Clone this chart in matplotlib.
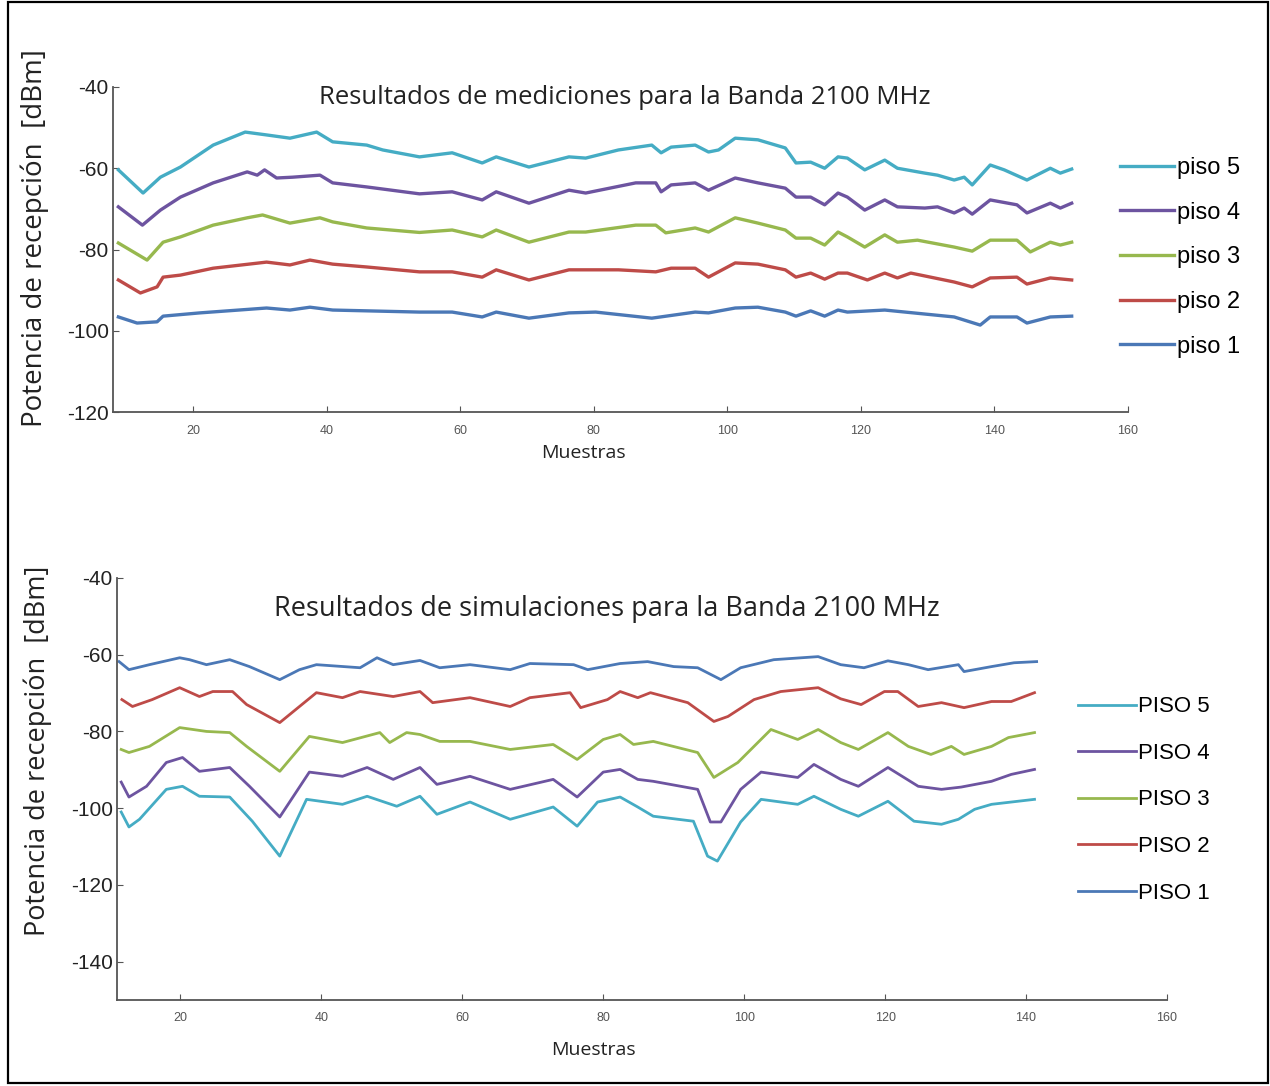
import matplotlib
matplotlib.use("Agg")
import matplotlib.pyplot as plt
from matplotlib.patches import Rectangle

plt.rcParams['axes.unicode_minus'] = False

# ---- medicion (upper chart) ----
m5_x = [8.8, 12.5, 15.1, 18.1, 23, 27.8, 31, 34.5, 38.5, 40.9, 46, 48.4, 53.9, 58.8, 63.3, 65.4, 70.3, 76.3, 78.8, 83.7,
        88.7, 90.1, 91.6, 95.2, 97.2, 98.7, 101.2, 104.6, 108.7, 110.3, 112.5, 114.6, 116.6, 118, 120.6, 123.6, 125.5,
        129.6, 131.5, 134, 135.5, 136.7, 139.4, 141.5, 144.9, 148.4, 149.9, 151.6]
m5_y = [-60.4, -66.1, -62.2, -59.7, -54.3, -51.1, -51.8, -52.6, -51.1, -53.5, -54.3, -55.5, -57.2, -56.2, -58.7, -57.2,
        -59.7, -57.2, -57.5, -55.5, -54.3, -56.2, -54.8, -54.3, -56, -55.5, -52.6, -53, -55, -58.7, -58.5, -60, -57.2,
        -57.5, -60.4, -58, -60, -61.2, -61.7, -62.9, -62.2, -64.1, -59.2, -60.4, -62.9, -60, -61.2, -60.2]

m4_x = [8.8, 12.4, 15.1, 18.1, 23, 28.1, 29.6, 30.7, 32.5, 34.9, 39, 40.9, 46, 53.9, 58.8, 63.3, 65.4, 70.3, 76.3, 78.8,
        86.3, 89.3, 90.1, 91.6, 95.2, 97.2, 101.2, 104.6, 108.7, 110.3, 112.5, 114.6, 116.6, 118, 120.6, 123.6, 125.5,
        129.6, 131.5, 134, 135.5, 136.7, 139.4, 143.4, 144.9, 148.4, 149.9, 151.6]
m4_y = [-69.5, -74, -70.3, -67.1, -63.6, -60.9, -61.7, -60.4, -62.4, -62.2, -61.7, -63.6, -64.6, -66.3, -65.8, -67.8,
        -65.8, -68.6, -65.4, -66.1, -63.6, -63.6, -65.8, -64.1, -63.6, -65.4, -62.4, -63.6, -64.9, -67.1, -67.1, -69,
        -66.1, -67.1, -70.3, -67.8, -69.5, -69.8, -69.5, -71, -69.8, -71.3, -67.8, -69, -71, -68.6, -69.8, -68.6]

m3_x = [8.8, 13.1, 15.5, 18.1, 23, 28.1, 30.4, 34.5, 39, 40.9, 46, 53.9, 58.8, 63.3, 65.4, 70.3, 76.3, 78.8, 86.3, 89.3,
        90.8, 95.2, 97.2, 101.2, 104.6, 108.7, 110.3, 112.5, 114.6, 116.6, 118, 120.6, 123.6, 125.5, 128.5, 134, 136.7,
        139.4, 143.4, 145.4, 148.4, 149.9, 151.6]
m3_y = [-78.4, -82.6, -78.2, -76.9, -74, -72.2, -71.5, -73.5, -72.2, -73.2, -74.7, -75.8, -75.2, -76.9, -75.2, -78.2,
        -75.7, -75.7, -74, -74, -75.9, -74.7, -75.7, -72.2, -73.5, -75.2, -77.2, -77.2, -78.9, -75.7, -76.9, -79.4,
        -76.4, -78.2, -77.7, -79.4, -80.4, -77.7, -77.7, -80.6, -78.2, -78.9, -78.2]

m2_x = [8.8, 12.1, 14.6, 15.5, 18.1, 23, 31, 34.5, 37.5, 40.9, 46, 53.9, 58.8, 63.3, 65.4, 70.3, 76.3, 83.7, 89.3, 91.6,
        95.2, 97.2, 101.2, 104.6, 108.7, 110.3, 112.5, 114.6, 116.6, 118, 121, 123.6, 125.5, 127.5, 134, 136.7, 139.4,
        143.4, 144.9, 148.4, 151.6]
m2_y = [-87.5, -90.7, -89.2, -86.8, -86.3, -84.6, -83.1, -83.8, -82.6, -83.6, -84.3, -85.5, -85.5, -86.8, -85, -87.5,
        -85, -85, -85.5, -84.6, -84.6, -86.8, -83.3, -83.6, -85, -86.8, -85.8, -87.3, -85.8, -85.8, -87.5, -85.8, -87,
        -85.8, -88, -89.2, -87, -86.8, -88.5, -87, -87.5]

m1_x = [8.8, 11.6, 14.6, 15.5, 21, 31, 34.5, 37.5, 40.9, 53.9, 58.8, 63.3, 65.4, 70.3, 76.3, 80.3, 88.7, 95.2, 97.2,
        101.2, 104.6, 108.7, 110.3, 112.5, 114.6, 116.6, 118, 123.6, 134, 137.9, 139.4, 143.4, 144.9, 148.4, 151.6]
m1_y = [-96.6, -98.1, -97.8, -96.4, -95.6, -94.4, -94.9, -94.2, -94.9, -95.4, -95.4, -96.6, -95.4, -96.9, -95.6, -95.4,
        -96.9, -95.4, -95.6, -94.4, -94.2, -95.4, -96.4, -95.1, -96.4, -94.9, -95.4, -94.9, -96.6, -98.6, -96.6, -96.6,
        -98.1, -96.6, -96.4]

# ---- simulacion (lower chart) ----
s1_x = [11.3, 12.7, 15.6, 19.9, 21.3, 23.7, 27, 29.8, 34.1, 36.9, 39.3, 45.5, 47.9, 50.2, 54, 56.8, 61.1, 66.8, 69.6,
        75.8, 77.8, 82.4, 86.3, 90, 93.4, 96.7, 99.5, 104.2, 110.5, 113.7, 117, 120.4, 123.3, 126.1, 130.4, 131.2,
        135.1, 138.3, 141.5]
s1_y = [-61.8, -63.9, -62.6, -60.8, -61.3, -62.6, -61.3, -63.1, -66.5, -63.9, -62.6, -63.4, -60.8, -62.6, -61.5, -63.4,
        -62.6, -63.9, -62.3, -62.6, -63.9, -62.3, -61.8, -63.1, -63.4, -66.5, -63.4, -61.3, -60.5, -62.6, -63.4, -61.6,
        -62.6, -63.9, -62.6, -64.4, -63.1, -62.1, -61.8]

s2_x = [11.7, 13.2, 16, 19.9, 22.7, 24.6, 27.4, 29.4, 34.1, 39.3, 43, 45.5, 50.2, 54, 55.8, 61.1, 66.8, 69.6, 75.3,
        76.8, 80.6, 82.4, 84.9, 86.7, 92, 95.7, 97.7, 101.4, 105.2, 110.5, 113.7, 116.6, 119.9, 121.8, 124.7, 128,
        131.2, 135.1, 137.9, 141.2]
s2_y = [-71.7, -73.5, -71.7, -68.6, -70.9, -69.6, -69.6, -73, -77.7, -69.9, -71.2, -69.6, -70.9, -69.6, -72.5, -71.2,
        -73.5, -71.2, -69.9, -73.8, -71.7, -69.6, -71.2, -69.9, -72.5, -77.4, -76.1, -71.7, -69.6, -68.6, -71.5, -73,
        -69.6, -69.6, -73.5, -72.5, -73.8, -72.2, -72.2, -69.9]

s3_x = [11.6, 12.7, 15.6, 19.9, 23.7, 27, 29.4, 34.1, 38.3, 43, 48.3, 49.7, 52.1, 54, 56.8, 61.1, 66.8, 72.9, 76.3, 80,
        82.4, 84.3, 87.1, 93.4, 95.7, 99.1, 103.8, 107.6, 110.5, 113.7, 116.2, 120.4, 123.3, 126.5, 129.4, 131.2,
        135.1, 137.5, 141.2]
s3_y = [-84.7, -85.5, -83.9, -79, -80, -80.3, -83.9, -90.4, -81.3, -82.9, -80.3, -82.9, -80.3, -80.8, -82.6, -82.6,
        -84.7, -83.4, -87.3, -82.1, -80.8, -83.4, -82.6, -85.5, -92, -88.1, -79.5, -82.1, -79.5, -82.9, -84.7, -80.3,
        -83.9, -86, -83.9, -86, -83.9, -81.6, -80.3]

s4_x = [11.6, 12.7, 15.2, 18, 20.3, 22.7, 27, 29.8, 34.1, 38.3, 43, 46.5, 50.2, 54, 56.4, 61.1, 66.8, 72.9, 76.3, 80,
        82.4, 84.9, 87.1, 93.4, 95.2, 96.7, 99.5, 102.4, 107.6, 109.9, 113.7, 116.2, 120.4, 124.7, 128, 130.8, 135.1,
        137.9, 141.2]
s4_y = [-93.2, -97.1, -94.3, -88.1, -86.8, -90.4, -89.4, -94.3, -102.3, -90.6, -91.7, -89.4, -92.5, -89.4, -93.8,
        -91.7, -95.1, -92.5, -97.1, -90.6, -89.9, -92.5, -93, -95.1, -103.6, -103.6, -95.1, -90.6, -92, -88.6, -92.5,
        -94.3, -89.4, -94.3, -95.1, -94.5, -93, -91.2, -89.9]

s5_x = [11.6, 12.7, 14.2, 18, 20.3, 22.7, 27, 30.2, 34.1, 37.9, 43, 46.5, 50.7, 54, 56.4, 61.1, 66.8, 72.9, 76.3, 79.2,
        82.4, 84.9, 87.1, 92.8, 94.8, 96.2, 99.5, 102.4, 107.6, 109.9, 113.7, 116.2, 120.4, 124.1, 128, 130.4, 132.7,
        135.1, 141.2]
s5_y = [-101, -104.9, -102.9, -95.1, -94.3, -96.9, -97.1, -103.4, -112.5, -97.7, -99, -96.9, -99.5, -96.9, -101.6,
        -98.4, -102.9, -99.7, -104.7, -98.4, -97.1, -99.7, -102.1, -103.4, -112.5, -113.8, -103.6, -97.7, -99, -96.9,
        -100.3, -102.1, -98.2, -103.4, -104.2, -102.9, -100.3, -99, -97.7]

top_labels = ['piso 5', 'piso 4', 'piso 3', 'piso 2', 'piso 1']
bot_labels = ['PISO 5', 'PISO 4', 'PISO 3', 'PISO 2', 'PISO 1']
x_ticks = [20, 40, 60, 80, 100, 120, 140, 160]
top_yticks = [-40, -60, -80, -100, -120]
bot_yticks = [-40, -60, -80, -100, -120, -140]

c_cyan = '#45acc4'
c_purple = '#6d54a0'
c_green = '#97b84e'
c_red = '#be4b48'
c_blue = '#4b78b6'

fig = plt.figure(figsize=(12.7, 10.86), dpi=100)

tick_font = ['Liberation Sans Narrow', 'Liberation Sans', 'DejaVu Sans']


def style_axes(ax, yticks, label_xy):
    for s in ['top', 'right']:
        ax.spines[s].set_visible(False)
    for s in ['left', 'bottom']:
        ax.spines[s].set_color('#555555')
        ax.spines[s].set_linewidth(1.3)
    ax.set_xticks(x_ticks)
    ax.set_yticks(yticks)
    ax.tick_params(direction='in', length=4, color='#555555')
    ax.tick_params(axis='x', labelsize=9, labelcolor='#555555', pad=9)
    ax.tick_params(axis='y', labelsize=15, labelcolor='#222222', pad=3)
    for t in ax.get_yticklabels():
        t.set_family(tick_font)
    for t in ax.get_xticklabels():
        t.set_family(tick_font)
    ax.set_xlabel('Muestras', fontsize=14, family='Open Sans', color='#222222')
    ax.xaxis.set_label_coords(*label_xy)


# upper chart
ax1 = fig.add_axes([0.089, 0.6206, 0.799, 0.2993])
ax1.plot(m5_x, m5_y, color=c_cyan, lw=2.4, label=top_labels[0])
ax1.plot(m4_x, m4_y, color=c_purple, lw=2.4, label=top_labels[1])
ax1.plot(m3_x, m3_y, color=c_green, lw=2.4, label=top_labels[2])
ax1.plot(m2_x, m2_y, color=c_red, lw=2.4, label=top_labels[3])
ax1.plot(m1_x, m1_y, color=c_blue, lw=2.4, label=top_labels[4])
ax1.set_xlim(8, 160)
ax1.set_ylim(-120, -40)
style_axes(ax1, top_yticks, (0.464, -0.098))
ax1.text(0.504, 0.969, 'Resultados de mediciones para la Banda 2100 MHz', transform=ax1.transAxes,
         ha='center', va='center', fontsize=18.5, family='Open Sans', color='#222222')
ax1.legend(loc='center left', bbox_to_anchor=(0.882, 0.763), bbox_transform=fig.transFigure,
           frameon=False, prop={'family': 'Liberation Sans', 'size': 17},
           handlelength=2.3, handletextpad=0.1, labelspacing=0.96, borderpad=0, borderaxespad=0)

# lower chart
ax2 = fig.add_axes([0.0921, 0.0792, 0.8268, 0.3886])
ax2.plot(s5_x, s5_y, color=c_cyan, lw=2.0, label=bot_labels[0])
ax2.plot(s4_x, s4_y, color=c_purple, lw=2.0, label=bot_labels[1])
ax2.plot(s3_x, s3_y, color=c_green, lw=2.0, label=bot_labels[2])
ax2.plot(s2_x, s2_y, color=c_red, lw=2.0, label=bot_labels[3])
ax2.plot(s1_x, s1_y, color=c_blue, lw=2.0, label=bot_labels[4])
ax2.set_xlim(11, 160)
ax2.set_ylim(-150, -40)
style_axes(ax2, bot_yticks, (0.454, -0.097))
ax2.text(0.467, 0.927, 'Resultados de simulaciones para la Banda 2100 MHz', transform=ax2.transAxes,
         ha='center', va='center', fontsize=19.5, family='Open Sans', color='#222222')
ax2.legend(loc='center left', bbox_to_anchor=(0.849, 0.2634), bbox_transform=fig.transFigure,
           frameon=False, prop={'family': 'Liberation Sans', 'size': 16},
           handlelength=2.6, handletextpad=0.1, labelspacing=1.15, borderpad=0, borderaxespad=0)

# y axis titles
fig.text(0.0276, 0.781, 'Potencia de recepción  [dBm]', rotation=90, ha='center', va='center',
         fontsize=20, family='Open Sans', color='#222222')
fig.text(0.030, 0.309, 'Potencia de recepción  [dBm]', rotation=90, ha='center', va='center',
         fontsize=19.5, family='Open Sans', color='#222222')

# outer frame
fig.patches.append(Rectangle((0.0063, 0.0028), 0.992, 0.9952, transform=fig.transFigure,
                             fill=False, edgecolor='black', linewidth=1.6))

plt.savefig('out.png', dpi=100)
